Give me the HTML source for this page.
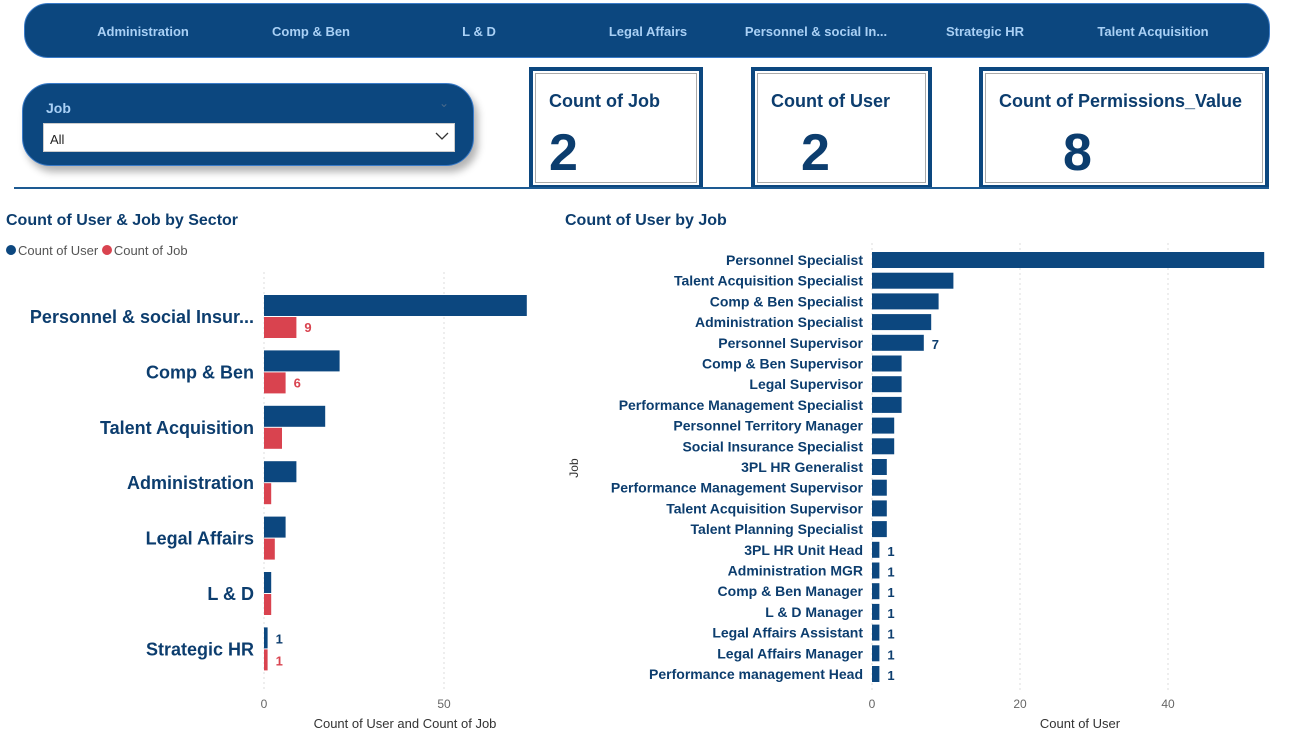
<!DOCTYPE html>
<html><head><meta charset="utf-8">
<style>
body{margin:0;width:1292px;height:732px;background:#fff;font-family:"Liberation Sans",sans-serif;position:relative;overflow:hidden}
.nav{position:absolute;left:24px;top:3px;width:1244px;height:53px;background:#0c477f;border-radius:24px;border:1px solid #3a7bc8}
.nav span{position:absolute;top:20px;color:#a9d0f5;font-weight:bold;font-size:13px;transform:translateX(-50%);white-space:nowrap}
.slicer{position:absolute;left:22px;top:83px;width:450px;height:81px;background:#0c477f;border-radius:28px;box-shadow:4px 6px 8px rgba(0,0,0,.3);border:1px solid #3a7bc8}
.card{position:absolute;top:67px;height:114px;border:4px solid #0c477f;background:#fff}
.card .in{position:absolute;inset:2px;border:1px solid #aaa}
.card .t{position:absolute;left:16px;top:20px;font-size:18px;color:#0c3d6e;font-weight:bold}
.card .v{position:absolute;top:52px;font-size:52px;font-weight:bold;color:#0c3d6e}
.title{position:absolute;font-size:16px;font-weight:bold;color:#0c3d6e}
</style></head><body>
<div class="nav">
<span style="left:118px">Administration</span>
<span style="left:286px">Comp &amp; Ben</span>
<span style="left:454px">L &amp; D</span>
<span style="left:623px">Legal Affairs</span>
<span style="left:791px">Personnel &amp; social In...</span>
<span style="left:960px">Strategic HR</span>
<span style="left:1128px">Talent Acquisition</span>
</div>
<div class="slicer">
<div style="position:absolute;left:23px;top:16px;color:#a9d0f5;font-weight:bold;font-size:14px">Job</div>
<div style="position:absolute;left:416px;top:12px;color:#4a6a8a;font-size:12px">&#8964;</div>
<div style="position:absolute;left:20px;top:39px;width:410px;height:27px;background:#fff;border:1px solid #ccc">
<span style="position:absolute;left:6px;top:8px;font-size:13px;color:#222">All</span>
<svg style="position:absolute;right:5px;top:8px" width="14" height="9"><polyline points="1,1 7,7 13,1" fill="none" stroke="#333" stroke-width="1.3"/></svg></div>
</div>
<div class="card" style="left:529px;width:166px"><div class="in"></div><div class="t">Count of Job</div><div class="v" style="left:16px">2</div></div>
<div class="card" style="left:751px;width:173px"><div class="in"></div><div class="t">Count of User</div><div class="v" style="left:46px">2</div></div>
<div class="card" style="left:979px;width:282px"><div class="in"></div><div class="t">Count of Permissions_Value</div><div class="v" style="left:80px">8</div></div>
<div style="position:absolute;left:14px;top:187px;width:1255px;height:2px;background:#1d5a92"></div>
<div class="title" style="left:6px;top:212px">Count of User &amp; Job by Sector</div>
<div style="position:absolute;left:6px;top:243px;font-size:13px;color:#555"><span><span style="display:inline-block;width:10px;height:10px;border-radius:5px;background:#0c477f;margin-right:2px"></span>Count of User </span><span><span style="display:inline-block;width:10px;height:10px;border-radius:5px;background:#d9434f;margin-right:2px"></span>Count of Job</span></div>
<div class="title" style="left:565px;top:212px">Count of User by Job</div>
<svg id="c" width="1292" height="732" style="position:absolute;left:0;top:0"></svg>
<script>
const sectors=["Personnel & social Insur...","Comp & Ben","Talent Acquisition","Administration","Legal Affairs","L & D","Strategic HR"];
const sectorUsers=[73,21,17,9,6,2,1];
const sectorJobs=[9,6,5,2,3,2,1];
const sectorTicks=[0,50];
const jobs=["Personnel Specialist","Talent Acquisition Specialist","Comp & Ben Specialist","Administration Specialist","Personnel Supervisor","Comp & Ben Supervisor","Legal Supervisor","Performance Management Specialist","Personnel Territory Manager","Social Insurance Specialist","3PL HR Generalist","Performance Management Supervisor","Talent Acquisition Supervisor","Talent Planning Specialist","3PL HR Unit Head","Administration MGR","Comp & Ben Manager","L & D Manager","Legal Affairs Assistant","Legal Affairs Manager","Performance management Head"];
const jobUsers=[53,11,9,8,7,4,4,4,3,3,2,2,2,2,1,1,1,1,1,1,1];
const jobTicks=[0,20,40];
const svg=document.getElementById('c');const NS='http://www.w3.org/2000/svg';
function mk(t,a,txt){const e=document.createElementNS(NS,t);for(const k in a)e.setAttribute(k,a[k]);if(txt!=null)e.textContent=txt;svg.appendChild(e);return e;}
// left chart
const lx=v=>264+v*3.6, ly=i=>316+i*55.4;
sectorTicks.forEach(t=>{const g=mk('line',{x1:lx(t),x2:lx(t),y1:272,y2:690,stroke:'#ddd','stroke-dasharray':'2,3'});
const l=mk('text',{x:lx(t),y:708,'font-size':12,fill:'#666','text-anchor':'middle','font-family':'Liberation Sans'},t);});
sectors.forEach((s,i)=>{const y=ly(i);
const l=mk('text',{x:254,y:y+7,'font-size':18,'font-weight':'bold',fill:'#0c3d6e','text-anchor':'end','font-family':'Liberation Sans'},s);
const b=mk('rect',{x:lx(0),y:y-21,width:lx(sectorUsers[i])-lx(0),height:21,fill:'#0c477f'});
const r=mk('rect',{x:lx(0),y:y+1,width:lx(sectorJobs[i])-lx(0),height:21,fill:'#d9434f'});
if(i==0||i==1){const v=mk('text',{x:lx(sectorJobs[i])+8,y:y+16,'font-size':13,'font-weight':'bold',fill:'#d9434f','font-family':'Liberation Sans'},sectorJobs[i]);}
if(i==6){const v=mk('text',{x:lx(sectorUsers[i])+8,y:y-5,'font-size':13,'font-weight':'bold',fill:'#0c3d6e','font-family':'Liberation Sans'},sectorUsers[i]);
const w=mk('text',{x:lx(sectorJobs[i])+8,y:y+17,'font-size':13,'font-weight':'bold',fill:'#d9434f','font-family':'Liberation Sans'},sectorJobs[i]);}
});
const lt=mk('text',{x:405,y:728,'font-size':13,fill:'#333','text-anchor':'middle','font-family':'Liberation Sans'},'Count of User and Count of Job');
// right chart
const rx=v=>872+v*7.4, ry=i=>260+i*20.7;
jobTicks.forEach(t=>{const g=mk('line',{x1:rx(t),x2:rx(t),y1:243,y2:690,stroke:'#ddd','stroke-dasharray':'2,3'});
const l=mk('text',{x:rx(t),y:708,'font-size':12,fill:'#666','text-anchor':'middle','font-family':'Liberation Sans'},t);});
jobs.forEach((s,i)=>{const y=ry(i);
const l=mk('text',{x:863,y:y+5,'font-size':14,'font-weight':'bold',fill:'#0c3d6e','text-anchor':'end','font-family':'Liberation Sans'},s);
const b=mk('rect',{x:rx(0),y:y-8,width:rx(jobUsers[i])-rx(0),height:16,fill:'#0c477f'});
if(i==4||i>=14){const v=mk('text',{x:rx(jobUsers[i])+8,y:y+6,'font-size':13,'font-weight':'bold',fill:'#0c3d6e','font-family':'Liberation Sans'},jobUsers[i]);}
});
const yt=mk('text',{x:578,y:468,'font-size':12,fill:'#333','text-anchor':'middle',transform:'rotate(-90 578 468)','font-family':'Liberation Sans'},'Job');
const rt=mk('text',{x:1080,y:728,'font-size':13,fill:'#333','text-anchor':'middle','font-family':'Liberation Sans'},'Count of User');
</script>
</body></html>
